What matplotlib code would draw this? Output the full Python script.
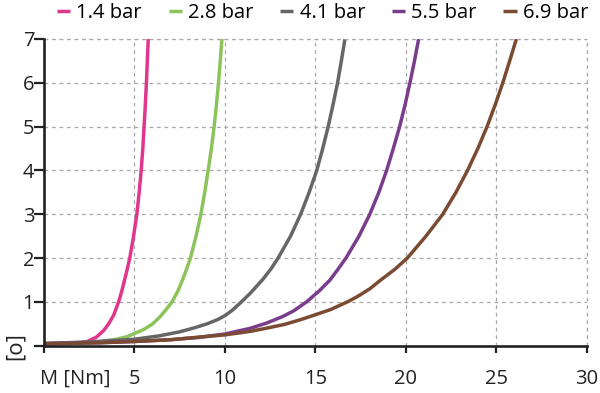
import matplotlib.pyplot as plt

pressures = ['1.4 bar', '2.8 bar', '4.1 bar', '5.5 bar', '6.9 bar']
colors = ['#e0368c', '#8cc35a', '#666666', '#7a3d8c', '#7a4b32']

# values, M [Nm] vs angle
x_14 = [0, 1, 1.8, 2.4, 2.9, 3.3, 3.57, 3.85, 4.12, 4.3, 4.45, 4.6, 4.74,
        4.95, 5.13, 5.26, 5.37, 5.46, 5.53, 5.6, 5.66, 5.71, 5.76]
y_14 = [0.05, 0.05, 0.06, 0.1, 0.2, 0.35, 0.5, 0.7, 1.0, 1.25, 1.5, 1.75, 2.0,
        2.5, 3.0, 3.5, 4.0, 4.5, 5.0, 5.5, 6.0, 6.5, 7.0]

x_28 = [0, 2, 3.1, 4, 4.6, 5.5, 6.0, 6.43, 6.75, 7.07, 7.4, 7.65, 7.88, 8.09,
        8.4, 8.67, 8.88, 9.07, 9.25, 9.4, 9.53, 9.64, 9.74, 9.83]
y_28 = [0.05, 0.07, 0.1, 0.15, 0.21, 0.37, 0.5, 0.67, 0.83, 1.0, 1.25, 1.5, 1.75, 2.0,
        2.5, 3.0, 3.5, 4.0, 4.5, 5.0, 5.5, 6.0, 6.5, 7.0]

x_41 = [0, 3, 5, 6.4, 7.5, 8.3, 9, 9.6, 10, 10.4, 10.85, 11.4, 12.1, 12.55, 12.93,
        13.62, 14.18, 14.65, 15.07, 15.4, 15.7, 15.97, 16.22, 16.43, 16.63]
y_41 = [0.05, 0.1, 0.15, 0.23, 0.32, 0.41, 0.5, 0.6, 0.69, 0.81, 0.98, 1.2, 1.52, 1.76, 2.0,
        2.5, 3.0, 3.5, 4.0, 4.5, 5.0, 5.5, 6.0, 6.5, 7.0]

x_55 = [0, 3, 5, 7, 8.5, 10, 11.4, 12.3, 13.2, 13.8, 14.5, 15.2, 15.8, 16.25, 16.68,
        17.4, 18.0, 18.5, 18.93, 19.3, 19.65, 19.95, 20.22, 20.47, 20.7]
y_55 = [0.05, 0.07, 0.1, 0.14, 0.19, 0.27, 0.4, 0.52, 0.67, 0.8, 1.0, 1.25, 1.5, 1.75, 2.0,
        2.5, 3.0, 3.5, 4.0, 4.5, 5.0, 5.5, 6.0, 6.5, 7.0]

x_69 = [0, 3, 5, 7, 8.6, 10, 11.4, 12.5, 13.3, 14.2, 15, 15.85, 16.8, 17.3, 18.0, 18.6,
        19.4, 20.07, 21.1, 22.03, 22.76, 23.4, 23.97, 24.48, 24.93, 25.35, 25.73, 26.1]
y_69 = [0.05, 0.07, 0.1, 0.14, 0.2, 0.25, 0.33, 0.42, 0.49, 0.6, 0.71, 0.83, 1.01, 1.12, 1.3, 1.5,
        1.75, 2.0, 2.5, 3.0, 3.5, 4.0, 4.5, 5.0, 5.5, 6.0, 6.5, 7.0]

xs = [x_14, x_28, x_41, x_55, x_69]
ys = [y_14, y_28, y_41, y_55, y_69]

plt.rcParams['font.family'] = ['Open Sans', 'DejaVu Sans']
ink = '#222222'

fig = plt.figure(figsize=(6, 3.93), dpi=100)
ax = fig.add_axes([0.0733, 0.12, 0.905, 0.781])

for x, y, c, lab in zip(xs, ys, colors, pressures):
    ax.plot(x, y, color=c, lw=2.5, label=lab, solid_capstyle='butt', solid_joinstyle='round')

ax.set_xlim(0, 30)
ax.set_ylim(0, 7)
ax.set_xticks([0, 5, 10, 15, 20, 25, 30])
ax.set_xticklabels(['', '5', '10', '15', '20', '25', '30'])
ax.set_yticks([0, 1, 2, 3, 4, 5, 6, 7])
ax.set_yticklabels(['', '1', '2', '3', '4', '5', '6', '7'])
ax.tick_params(axis='x', labelsize=14.5, length=5, width=1.6, colors=ink, pad=12)
ax.tick_params(axis='y', labelsize=14.5, length=7, width=1.6, colors=ink, pad=0)
ax.grid(True, ls=(0, (3, 3)), color='#a8a8a8', lw=0.9)
for s in ['top', 'right']:
    ax.spines[s].set_visible(False)
for s in ['left', 'bottom']:
    ax.spines[s].set_linewidth(1.9)
    ax.spines[s].set_color(ink)
# dashed frame on top and right like the grid
ax.axhline(7, ls=(0, (3, 3)), color='#a8a8a8', lw=0.9, clip_on=False)
ax.axvline(30, ls=(0, (3, 3)), color='#a8a8a8', lw=0.9, clip_on=False)

fig.text(0.125, 0.036, 'M [Nm]', fontsize=14.5, ha='center', va='center', color=ink)
fig.text(0.025, 0.12, '[o]', fontsize=16, rotation=90, ha='center', va='center', color=ink)

fig.legend(loc='center right', bbox_to_anchor=(0.98, 0.967), ncol=5, frameon=False,
           fontsize=14.5, handlelength=0.65, handletextpad=0.3, columnspacing=1.34,
           borderaxespad=0, borderpad=0)

fig.savefig('out.png', dpi=100)
